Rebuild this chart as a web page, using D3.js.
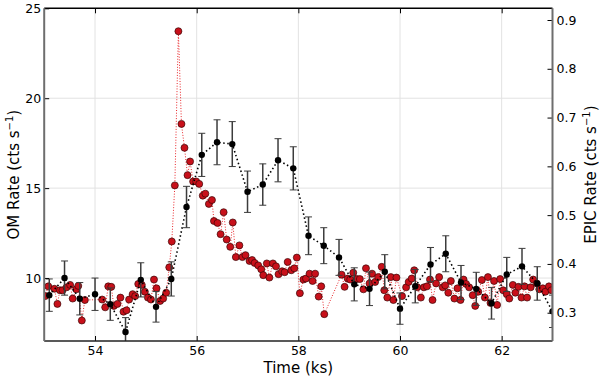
<!DOCTYPE html>
<html>
<head>
<meta charset="utf-8">
<script src="https://cdn.jsdelivr.net/npm/d3@7"></script>
<style>
  body { margin: 0; background: #fff; }
  text { font-family: "DejaVu Sans", sans-serif; fill: #000; }
</style>
</head>
<body>
<svg id="chart" width="600" height="377"></svg>
<script>
// OM light curve (left axis)
const omTime = [53.1, 53.4, 53.7, 54.0, 54.3, 54.6, 54.9, 55.2, 55.5, 55.8, 56.1, 56.4, 56.7, 57.0, 57.3, 57.6, 57.9,
    58.2, 58.5, 58.8, 59.1, 59.4, 59.7, 60.0, 60.3, 60.6, 60.9, 61.2, 61.5, 61.8, 62.1, 62.4, 62.7, 63.0];
const omRate = [9.05, 10.0, 8.85, 9.1, 8.55, 7.0, 9.9, 8.4, 9.95, 13.95, 16.85, 17.55, 17.45, 14.8, 15.2, 16.55, 16.1,
    12.35, 11.8, 11.15, 9.65, 9.4, 10.35, 8.3, 9.55, 10.75, 11.35, 9.75, 9.4, 8.6, 10.2, 10.65, 9.7, 8.15];
const omErr = [0.9, 0.95, 0.9, 0.9, 0.9, 0.8, 0.95, 0.85, 0.95, 1.15, 1.2, 1.25, 1.25, 1.15, 1.15, 1.2, 1.2,
    1.05, 1.0, 1.0, 0.92, 0.93, 0.95, 0.87, 0.93, 0.95, 1.0, 0.95, 0.92, 0.88, 0.95, 1.0, 0.93, 0.9];

// EPIC light curve (right axis)
const epicTime = [53.02, 53.08, 53.20, 53.26, 53.31, 53.36, 53.44, 53.51, 53.56, 53.63, 53.67, 53.74, 53.80,
    54.14, 54.20, 54.26, 54.32, 54.37, 54.44, 54.50, 54.56, 54.62, 54.67, 54.74, 54.79, 54.85, 54.92, 54.98,
    55.04, 55.10, 55.16, 55.21, 55.28, 55.34, 55.40, 55.46, 55.51, 55.57, 55.64, 55.70, 55.76, 55.82, 55.87,
    55.93, 55.99, 56.05, 56.12, 56.17, 56.24, 56.30, 56.34, 56.41, 56.47, 56.53, 56.59, 56.66, 56.71, 56.77,
    56.84, 56.90, 56.96, 57.04, 57.09, 57.14, 57.21, 57.27, 57.31, 57.38, 57.43, 57.50, 57.56, 57.61, 57.68,
    57.73, 57.79, 57.86, 57.92, 57.97, 58.03, 58.10, 58.15, 58.22, 58.28, 58.33, 58.40, 58.45, 58.51,
    58.85, 58.91, 58.97, 59.02, 59.08, 59.15, 59.21, 59.28, 59.33, 59.40, 59.45, 59.51, 59.57, 59.64, 59.69,
    59.75, 59.82, 59.87, 59.93, 60.04, 60.12, 60.17, 60.23, 60.28, 60.34, 60.41, 60.47, 60.53, 60.59, 60.64,
    60.71, 60.77, 60.84, 60.89, 60.95, 61.00, 61.07, 61.13, 61.19, 61.25, 61.30, 61.36, 61.43, 61.48, 61.54,
    61.61, 61.67, 61.73, 61.78, 61.85, 61.91, 61.97, 62.03, 62.10, 62.15, 62.22, 62.27, 62.33, 62.39, 62.45,
    62.50, 62.57, 62.62, 62.69, 62.74, 62.81, 62.86, 62.93, 62.98];
const epicRate = [0.334, 0.354, 0.349, 0.318, 0.346, 0.346, 0.352, 0.357, 0.329, 0.348, 0.355, 0.284, 0.326,
    0.327, 0.311, 0.354, 0.353, 0.314, 0.318, 0.331, 0.302, 0.305, 0.327, 0.338, 0.334, 0.359, 0.357, 0.343,
    0.331, 0.327, 0.368, 0.350, 0.324, 0.329, 0.341, 0.393, 0.446, 0.561, 0.877, 0.687, 0.638, 0.582, 0.610,
    0.569, 0.569, 0.564, 0.540, 0.544, 0.523, 0.531, 0.488, 0.484, 0.461, 0.506, 0.450, 0.435, 0.485, 0.414,
    0.438, 0.414, 0.418, 0.406, 0.408, 0.402, 0.397, 0.389, 0.377, 0.401, 0.372, 0.401, 0.395, 0.379, 0.385,
    0.383, 0.404, 0.387, 0.391, 0.413, 0.340, 0.368, 0.370, 0.380, 0.365, 0.380, 0.333, 0.354, 0.297,
    0.378, 0.353, 0.370, 0.368, 0.382, 0.369, 0.369, 0.348, 0.391, 0.360, 0.380, 0.363, 0.373, 0.394, 0.346,
    0.331, 0.373, 0.326, 0.372, 0.334, 0.352, 0.363, 0.370, 0.387, 0.352, 0.331, 0.352, 0.354, 0.368, 0.326,
    0.360, 0.373, 0.352, 0.356, 0.341, 0.365, 0.329, 0.350, 0.326, 0.368, 0.359, 0.352, 0.336, 0.314, 0.343,
    0.367, 0.331, 0.373, 0.320, 0.365, 0.316, 0.369, 0.346, 0.338, 0.329, 0.357, 0.341, 0.353, 0.331, 0.354,
    0.331, 0.352, 0.368, 0.360, 0.348, 0.350, 0.343, 0.354, 0.346];

const xTicks = [54, 56, 58, 60, 62];
const omTicks = [10, 15, 20, 25];
const epicTicks = [0.3, 0.4, 0.5, 0.6, 0.7, 0.8, 0.9];

const omData = omTime.map((t, i) => ({ t: t, v: omRate[i], e: omErr[i] }));
const epicData = epicTime.map((t, i) => ({ t: t, v: epicRate[i] }));

const margin = { left: 44.2, right: 47.5, top: 8.3, bottom: 36 };
const W = 600, H = 377;
const width = W - margin.left - margin.right;
const height = H - margin.top - margin.bottom;

const svg = d3.select('#chart');
const g = svg.append('g').attr('transform', 'translate(' + margin.left + ',' + margin.top + ')');

const xScale = d3.scaleLinear().domain([53, 63]).range([0, width]);
const yLeft = d3.scaleLinear().domain([6.5, 25]).range([height, 0]);
const yRight = d3.scaleLinear().domain([0.242, 0.924]).range([height, 0]);

svg.append('defs').append('clipPath').attr('id', 'plotClip')
    .append('rect').attr('width', width).attr('height', height);

// grid
g.append('g').attr('class', 'grid')
    .selectAll('line.gx')
    .data(xTicks)
    .enter()
    .append('line')
    .attr('x1', d => xScale(d)).attr('x2', d => xScale(d))
    .attr('y1', 0).attr('y2', height)
    .attr('stroke', '#e2e2e2').attr('stroke-width', 1);

g.select('.grid')
    .selectAll('line.gy')
    .data(omTicks.filter(d => d < 25))
    .enter()
    .append('line')
    .attr('x1', 0).attr('x2', width)
    .attr('y1', d => yLeft(d)).attr('y2', d => yLeft(d))
    .attr('stroke', '#e2e2e2').attr('stroke-width', 1);

const plot = g.append('g').attr('clip-path', 'url(#plotClip)');

// EPIC series
plot.append('path')
    .datum(epicData)
    .attr('fill', 'none')
    .attr('stroke', '#e8262a')
    .attr('stroke-width', 1)
    .attr('stroke-dasharray', '1,1.7')
    .attr('d', d3.line().x(d => xScale(d.t)).y(d => yRight(d.v)));

plot.append('g').attr('class', 'epic')
    .selectAll('circle')
    .data(epicData)
    .enter()
    .append('circle')
    .attr('cx', d => xScale(d.t))
    .attr('cy', d => yRight(d.v))
    .attr('r', 3.5)
    .attr('fill', '#c8101a')
    .attr('stroke', '#3a0606')
    .attr('stroke-width', 0.7);

// OM series
plot.append('path')
    .datum(omData)
    .attr('fill', 'none')
    .attr('stroke', '#000')
    .attr('stroke-width', 1.6)
    .attr('stroke-dasharray', '1.5,2.6')
    .attr('d', d3.line().x(d => xScale(d.t)).y(d => yLeft(d.v)));

const bars = plot.append('g').attr('class', 'errbars')
    .selectAll('g')
    .data(omData)
    .enter()
    .append('g')
    .attr('stroke', '#3c3c3c')
    .attr('stroke-width', 1.5);

bars.append('line')
    .attr('x1', d => xScale(d.t)).attr('x2', d => xScale(d.t))
    .attr('y1', d => yLeft(d.v - d.e)).attr('y2', d => yLeft(d.v + d.e));
bars.append('line')
    .attr('x1', d => xScale(d.t) - 3.5).attr('x2', d => xScale(d.t) + 3.5)
    .attr('y1', d => yLeft(d.v + d.e)).attr('y2', d => yLeft(d.v + d.e))
    .attr('stroke-width', 1);
bars.append('line')
    .attr('x1', d => xScale(d.t) - 3.5).attr('x2', d => xScale(d.t) + 3.5)
    .attr('y1', d => yLeft(d.v - d.e)).attr('y2', d => yLeft(d.v - d.e))
    .attr('stroke-width', 1);

plot.append('g').attr('class', 'om')
    .selectAll('circle')
    .data(omData)
    .enter()
    .append('circle')
    .attr('cx', d => xScale(d.t))
    .attr('cy', d => yLeft(d.v))
    .attr('r', 3.2)
    .attr('fill', '#000');

// axes (ticks inward)
g.append('g').attr('class', 'x axis')
    .attr('transform', 'translate(0,' + height + ')')
    .call(d3.axisBottom(xScale).tickValues(xTicks).tickSizeInner(-5).tickSizeOuter(0).tickPadding(5).tickFormat(d3.format('d')));
g.append('g').attr('class', 'x axis top')
    .call(d3.axisTop(xScale).tickValues(xTicks).tickSizeInner(-5).tickSizeOuter(0).tickFormat(''));
g.append('g').attr('class', 'y axis')
    .call(d3.axisLeft(yLeft).tickValues(omTicks).tickSizeInner(-5).tickSizeOuter(0).tickPadding(3).tickFormat(d3.format('d')));
g.append('g').attr('class', 'y axis right')
    .attr('transform', 'translate(' + width + ',0)')
    .call(d3.axisRight(yRight).tickValues(epicTicks).tickSizeInner(-5).tickSizeOuter(0).tickPadding(4).tickFormat(d3.format('.1f')));

g.selectAll('.axis path').remove();
g.selectAll('.axis .tick line').attr('stroke', '#000').attr('stroke-width', 1);
g.selectAll('.axis .tick text')
    .attr('font-family', '"DejaVu Sans", sans-serif')
    .attr('font-size', 12.5)
    .attr('fill', '#000');

// spines
g.append('line').attr('x1', 0).attr('x2', width).attr('y1', 0).attr('y2', 0)
    .attr('stroke', '#000').attr('stroke-width', 1.5);
g.append('line').attr('x1', 0).attr('x2', width).attr('y1', height).attr('y2', height)
    .attr('stroke', '#222').attr('stroke-width', 1.5);
g.append('line').attr('x1', 0).attr('x2', 0).attr('y1', 0).attr('y2', height)
    .attr('stroke', '#6e6e6e').attr('stroke-width', 2);
g.append('line').attr('x1', width).attr('x2', width).attr('y1', 0).attr('y2', height)
    .attr('stroke', '#6e6e6e').attr('stroke-width', 2);

// labels
svg.append('text')
    .attr('x', margin.left + width / 2)
    .attr('y', 373)
    .attr('text-anchor', 'middle')
    .attr('font-size', 15)
    .text('Time (ks)');

function rateLabel(x, name) {
    const t = svg.append('text')
        .attr('transform', 'translate(' + x + ',' + (margin.top + height / 2) + '),rotate(-90)')
        .attr('text-anchor', 'middle')
        .attr('font-size', 15);
    t.append('tspan').text(name + ' Rate (cts s');
    t.append('tspan').attr('dy', -6).attr('font-size', 10).text('\u22121');
    t.append('tspan').attr('dy', 6).text(')');
}
rateLabel(19, 'OM');
rateLabel(596, 'EPIC');
</script>
</body>
</html>
